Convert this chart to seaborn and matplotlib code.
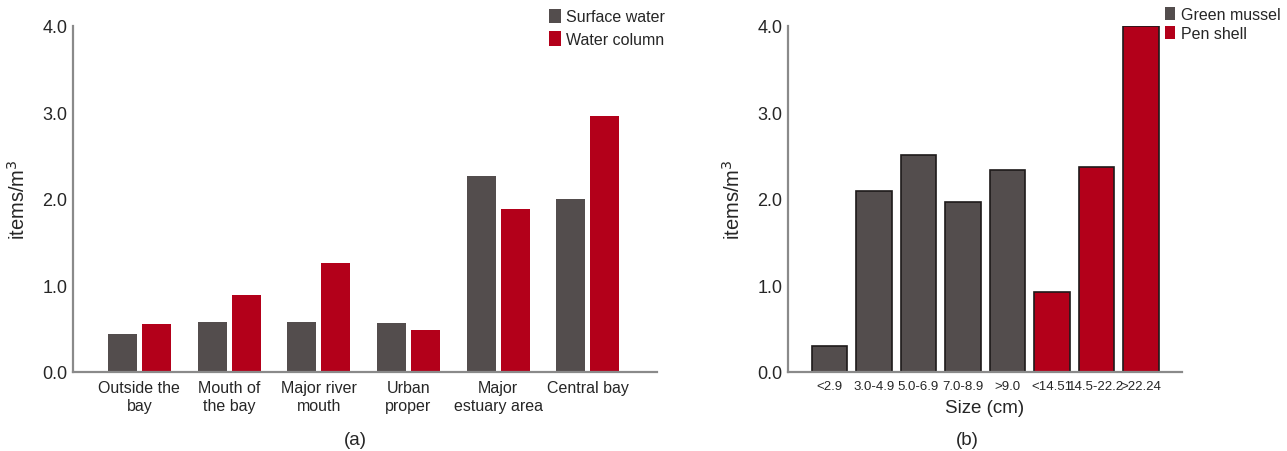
import pandas as pd
import matplotlib
matplotlib.use('Agg')
import matplotlib.pyplot as plt
import seaborn as sns

# data
sites = ['Outside the\nbay', 'Mouth of\nthe bay', 'Major river\nmouth', 'Urban\nproper',
         'Major\nestuary area', 'Central bay']
surface_water = [0.44, 0.58, 0.58, 0.57, 2.26, 2.00]
water_column = [0.55, 0.89, 1.26, 0.48, 1.88, 2.96]

sizes = ['<2.9', '3.0-4.9', '5.0-6.9', '7.0-8.9', '>9.0', '<14.51', '14.5-22.2', '>22.24']
species = ['Green mussel'] * 5 + ['Pen shell'] * 3
density = [0.30, 2.09, 2.51, 1.97, 2.34, 0.93, 2.37, 4.00]

gray = '#534d4d'
red = '#b3001a'

sns.set_style('white')
plt.rcParams['font.family'] = ['Liberation Sans', 'DejaVu Sans']

df_a = pd.DataFrame({'site': sites * 2,
                     'value': surface_water + water_column,
                     'layer': ['Surface water'] * 6 + ['Water column'] * 6})
df_b = pd.DataFrame({'size': sizes, 'value': density, 'species': species})

fig = plt.figure(figsize=(12.87, 4.52), dpi=100)
ax1 = fig.add_axes([0.0567, 0.1748, 0.4538, 0.7655])
ax2 = fig.add_axes([0.6123, 0.1748, 0.3061, 0.7655])

yt = [0, 1, 2, 3, 4]
ytl = ['0.0', '1.0', '2.0', '3.0', '4.0']

#- panel (a)
sns.barplot(data=df_a, x='site', y='value', hue='layer', order=sites,
            palette=[gray, red], width=0.76, gap=0.15, ax=ax1, saturation=1,
            linewidth=0)
ax1.set_xlim(-0.74, 5.77)
ax1.set_ylim(0, 4)
ax1.set_yticks(yt)
ax1.set_yticklabels(ytl, fontsize=13)
ax1.tick_params(axis='x', labelsize=11.5, length=0, pad=6)
ax1.tick_params(axis='y', length=0, pad=4)
ax1.set_xlabel('')
ax1.set_ylabel('items/m$^3$', fontsize=14.5, labelpad=10)
ax1.legend(loc='upper left', bbox_to_anchor=(0.815, 1.05), frameon=False, fontsize=11.5,
           handlelength=0.75, handleheight=1.0, handletextpad=0.3, labelspacing=0.45,
           borderaxespad=0, borderpad=0)
fig.text(0.2758, 0.015, '(a)', ha='center', fontsize=13.5)

#- panel (b)
sns.barplot(data=df_b, x='size', y='value', hue='species', order=sizes,
            palette=[gray, red], dodge=False, width=0.8, ax=ax2, saturation=1,
            edgecolor='#1e1a1a', linewidth=1.2)
ax2.set_xlim(-0.93, 7.92)
ax2.set_ylim(0, 4)
ax2.set_yticks(yt)
ax2.set_yticklabels(ytl, fontsize=13)
ax2.tick_params(axis='x', labelsize=9.5, length=0, pad=6)
ax2.tick_params(axis='y', length=0, pad=4)
ax2.set_xlabel('Size (cm)', fontsize=13.5, labelpad=5)
ax2.set_ylabel('items/m$^3$', fontsize=14.5, labelpad=10)
leg = ax2.legend(loc='upper left', bbox_to_anchor=(0.958, 1.055), frameon=False, fontsize=11.5,
                 handlelength=0.6, handleheight=0.8, handletextpad=0.4, labelspacing=0.25,
                 borderaxespad=0, borderpad=0)
for h in leg.legend_handles:
    h.set_edgecolor('none')
fig.text(0.7517, 0.015, '(b)', ha='center', fontsize=13.5)

for ax in (ax1, ax2):
    sns.despine(ax=ax)
    for s in ('left', 'bottom'):
        ax.spines[s].set_color('#8a8a8a')
        ax.spines[s].set_linewidth(1.6)
    ax.grid(False)

fig.savefig('out.png', dpi=100)
